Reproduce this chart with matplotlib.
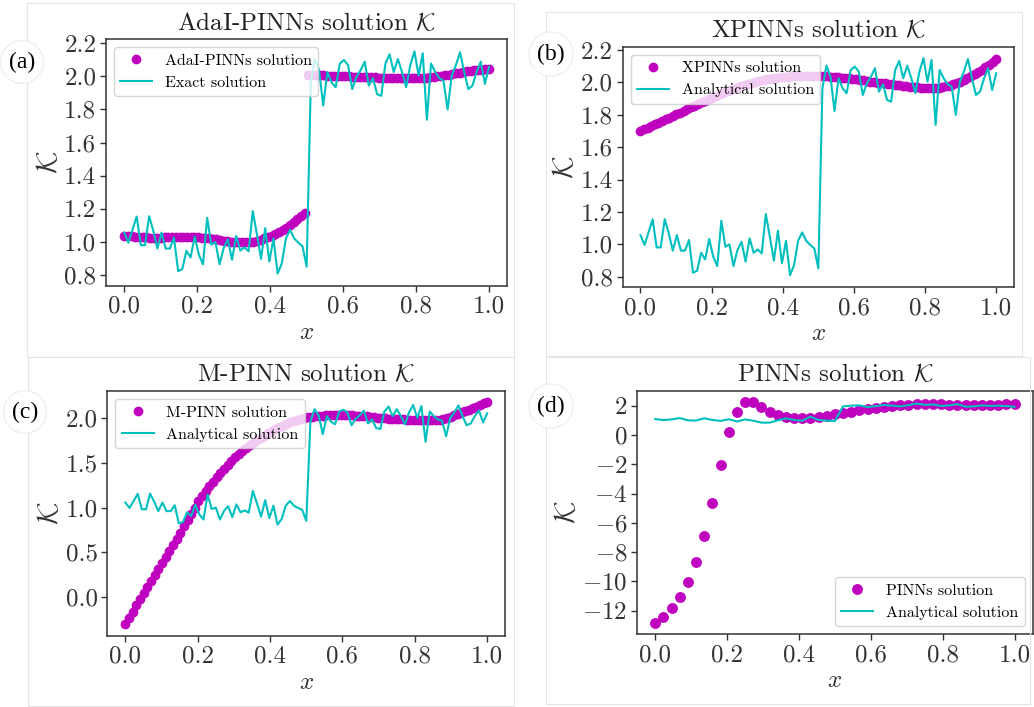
import numpy as np
import matplotlib
matplotlib.use("Agg")
import matplotlib.pyplot as plt
from matplotlib.patches import Rectangle
from matplotlib.ticker import FormatStrFormatter

plt.rcParams["font.family"] = "serif"
plt.rcParams["font.serif"] = ["cmr10"]
plt.rcParams["mathtext.fontset"] = "cm"
plt.rcParams["axes.formatter.use_mathtext"] = True
plt.rcParams["axes.unicode_minus"] = True

# analytical (noisy) solution, 89 samples on [0, 1]
x_exact = np.linspace(0, 1, 89)
k_exact = [1.057, 0.996, 1.075, 1.154, 0.981, 0.981, 1.156, 1.068, 0.961, 1.057,
           0.961, 0.961, 1.027, 0.825, 0.837, 0.948, 0.907, 1.033, 0.924, 0.866,
           1.146, 0.985, 1.000, 0.866, 0.965, 1.016, 0.893, 1.037, 0.948, 0.969,
           0.944, 1.187, 1.047, 0.899, 1.084, 0.883, 1.022, 0.810, 0.872, 1.022,
           1.074, 1.022, 0.996, 0.975, 0.852,
           1.963, 2.103, 2.035, 1.823, 2.025, 1.963, 1.933, 2.076, 2.097, 2.066,
           1.922, 1.994, 2.035, 2.087, 1.943, 1.988, 1.891, 1.881, 2.076, 2.132,
           2.025, 2.103, 2.025, 1.933, 2.066, 2.149, 2.004, 2.138, 1.737, 2.076,
           2.025, 1.988, 1.973, 1.799, 2.004, 2.066, 2.144, 2.025, 1.922, 1.943,
           2.025, 2.087, 1.953, 2.056]

# network predictions, 100 samples on [0, 1]
x_pred = np.linspace(0, 1, 100)
k_adai = [1.039, 1.037, 1.035, 1.033, 1.031, 1.029, 1.028, 1.027, 1.027, 1.027,
          1.027, 1.028, 1.029, 1.030, 1.031, 1.032, 1.032, 1.032, 1.031, 1.030,
          1.029, 1.027, 1.025, 1.022, 1.019, 1.016, 1.012, 1.008, 1.004, 1.001,
          0.999, 0.998, 0.998, 0.998, 1.000, 1.003, 1.007, 1.014, 1.022, 1.030,
          1.039, 1.050, 1.062, 1.074, 1.087, 1.103, 1.119, 1.137, 1.156, 1.176,
          2.007, 2.006, 2.005, 2.005, 2.004, 2.003, 2.002, 2.001, 2.000, 1.999,
          1.999, 1.998, 1.997, 1.996, 1.995, 1.994, 1.993, 1.992, 1.992, 1.991,
          1.990, 1.990, 1.989, 1.989, 1.989, 1.989, 1.989, 1.989, 1.989, 1.989,
          1.989, 1.990, 1.991, 1.993, 1.995, 1.998, 2.001, 2.005, 2.009, 2.013,
          2.017, 2.021, 2.025, 2.028, 2.031, 2.034, 2.036, 2.038, 2.040, 2.042]
k_xpinn = [1.700, 1.710, 1.720, 1.730, 1.740, 1.750, 1.761, 1.771, 1.782, 1.792,
           1.803, 1.813, 1.824, 1.834, 1.845, 1.855, 1.866, 1.876, 1.886, 1.896,
           1.906, 1.916, 1.926, 1.935, 1.944, 1.953, 1.961, 1.969, 1.977, 1.984,
           1.991, 1.997, 2.003, 2.008, 2.013, 2.018, 2.022, 2.026, 2.029, 2.032,
           2.034, 2.036, 2.038, 2.039, 2.040, 2.041, 2.041, 2.041, 2.041, 2.040,
           2.039, 2.038, 2.037, 2.035, 2.033, 2.031, 2.029, 2.027, 2.024, 2.021,
           2.018, 2.015, 2.012, 2.009, 2.005, 2.002, 1.999, 1.996, 1.993, 1.990,
           1.987, 1.984, 1.981, 1.978, 1.976, 1.973, 1.971, 1.969, 1.967, 1.966,
           1.965, 1.965, 1.966, 1.968, 1.971, 1.975, 1.980, 1.987, 1.995, 2.004,
           2.014, 2.025, 2.037, 2.050, 2.063, 2.077, 2.092, 2.108, 2.124, 2.142]
k_mpinn = [-0.300, -0.232, -0.163, -0.095, -0.027, 0.041, 0.109, 0.177, 0.245, 0.313,
           0.381, 0.449, 0.517, 0.585, 0.653, 0.721, 0.789, 0.857, 0.925, 0.993,
           1.070, 1.127, 1.183, 1.238, 1.292, 1.345, 1.393, 1.438, 1.482, 1.525,
           1.566, 1.600, 1.633, 1.665, 1.696, 1.727, 1.755, 1.781, 1.807, 1.833,
           1.858, 1.879, 1.899, 1.918, 1.937, 1.955, 1.967, 1.979, 1.990, 2.001,
           2.010, 2.016, 2.021, 2.026, 2.031, 2.034, 2.036, 2.037, 2.037, 2.037,
           2.036, 2.035, 2.033, 2.031, 2.028, 2.025, 2.021, 2.017, 2.012, 2.008,
           2.004, 2.000, 1.997, 1.994, 1.992, 1.990, 1.988, 1.986, 1.984, 1.982,
           1.981, 1.980, 1.979, 1.978, 1.978, 1.980, 1.985, 1.993, 2.005, 2.019,
           2.034, 2.050, 2.066, 2.082, 2.098, 2.115, 2.132, 2.150, 2.168, 2.187]

# plain PINNs panel, 45 samples on [0, 1]
x_coarse = np.linspace(0, 1, 45)
k_pinn = [-12.86, -12.43, -11.84, -11.07, -10.04, -8.68, -6.92, -4.67, -2.07, 0.18,
          1.60, 2.25, 2.25, 1.92, 1.58, 1.35, 1.20, 1.15, 1.14, 1.17,
          1.22, 1.30, 1.40, 1.50, 1.60, 1.70, 1.78, 1.86, 1.92, 1.98,
          2.03, 2.07, 2.10, 2.10, 2.10, 2.08, 2.07, 2.05, 2.04, 2.03,
          2.03, 2.03, 2.05, 2.08, 2.12]
k_exact_coarse = [1.08, 1.02, 1.06, 1.15, 1.00, 0.98, 1.14, 1.02, 0.96, 1.07,
                  0.92, 1.06, 0.97, 0.84, 0.84, 1.00, 1.13, 1.02, 0.97, 1.25,
                  1.02, 0.98, 0.95,
                  1.95, 2.00, 2.02, 1.90, 1.97, 2.05, 2.00, 1.95, 2.03, 2.15,
                  2.05, 2.08, 1.98, 2.02, 2.10, 1.93, 1.95, 2.02, 1.98, 2.00,
                  1.97, 1.92]

x_ticks = [0.0, 0.2, 0.4, 0.6, 0.8, 1.0]
y_ticks_ab = [0.8, 1.0, 1.2, 1.4, 1.6, 1.8, 2.0, 2.2]
y_ticks_c = [0.0, 0.5, 1.0, 1.5, 2.0]
y_ticks_d = [-12, -10, -8, -6, -4, -2, 0, 2]

panels = [
    ("AdaI-PINNs solution $\\mathcal{K}$", "AdaI-PINNs solution", "Exact solution",
     x_pred, k_adai, x_exact, k_exact, "(a)", y_ticks_ab, (0.737, 2.222), "%.1f"),
    ("XPINNs solution $\\mathcal{K}$", "XPINNs solution", "Analytical solution",
     x_pred, k_xpinn, x_exact, k_exact, "(b)", y_ticks_ab, (0.735, 2.22), "%.1f"),
    ("M-PINN solution $\\mathcal{K}$", "M-PINN solution", "Analytical solution",
     x_pred, k_mpinn, x_exact, k_exact, "(c)", y_ticks_c, (-0.437, 2.306), "%.1f"),
    ("PINNs solution $\\mathcal{K}$", "PINNs solution", "Analytical solution",
     x_coarse, k_pinn, x_coarse, k_exact_coarse, "(d)", y_ticks_d, (-13.61, 3.0), None),
]

W, H = 1034, 707
fig = plt.figure(figsize=(W / 100, H / 100), dpi=100)

# axes boxes in pixels: left, top, right, bottom
boxes = [(106, 39.3, 507.3, 285.7), (622.7, 46.7, 1014, 287.3),
         (107.3, 391, 505.3, 636), (637.3, 391, 1032.5, 634.3)]
frames = [(26.5, 3, 514, 357), (545.5, 12.5, 1022, 356),
          (28, 357, 514, 706), (545.5, 357, 1030, 704)]
label_pos = [(22, 62), (551, 54), (25, 412), (551, 406)]
grey = "#333333"

for i, (title, lab_pred, lab_exact, xp, kp, xe, ke, tag, yt, ylim, fmt) in enumerate(panels):
    l, t, r, b = boxes[i]
    ax = fig.add_axes([l / W, 1 - b / H, (r - l) / W, (b - t) / H])
    ms = 6.8 if i == 3 else 6.0
    ax.plot(xp, kp, "o", color="m", ms=ms, label=lab_pred)
    ax.plot(xe, ke, "-", color="c", lw=1.5, label=lab_exact)
    ax.set_xlim(-0.05, 1.05)
    ax.set_ylim(*ylim)
    ax.set_xticks(x_ticks)
    ax.set_yticks(yt)
    ax.xaxis.set_major_formatter(FormatStrFormatter("%.1f"))
    if fmt:
        ax.yaxis.set_major_formatter(FormatStrFormatter(fmt))
    ax.set_title(title, fontsize=18, color="#222222", pad=7)
    ax.set_xlabel("$x$", fontsize=18, color=grey, labelpad=3)
    ax.set_ylabel("$\\mathcal{K}$", fontsize=21, color=grey, labelpad=1)
    ax.tick_params(labelsize=18, colors=grey, length=4, width=1.0, pad=3)
    for s in ax.spines.values():
        s.set_color(grey)
        s.set_linewidth(1.1)
    if i == 3:
        ax.legend(loc="lower right", fontsize=11.5)
    else:
        ax.legend(loc="upper left", fontsize=11.5)

    fl, ft, fr, fb = frames[i]
    fig.patches.append(Rectangle((fl / W, 1 - fb / H), (fr - fl) / W, (fb - ft) / H,
                                 transform=fig.transFigure, fill=False,
                                 ec="#e4e4e4", lw=0.8, zorder=0))
    lx, ly = label_pos[i]
    fig.text(lx / W, 1 - ly / H, tag, ha="center", va="center", fontsize=17,
             family="Liberation Serif", color="black",
             bbox=dict(boxstyle="circle,pad=0.35", fc="white", ec="#ececec", lw=0.8))

fig.savefig("out.png", dpi=100)
